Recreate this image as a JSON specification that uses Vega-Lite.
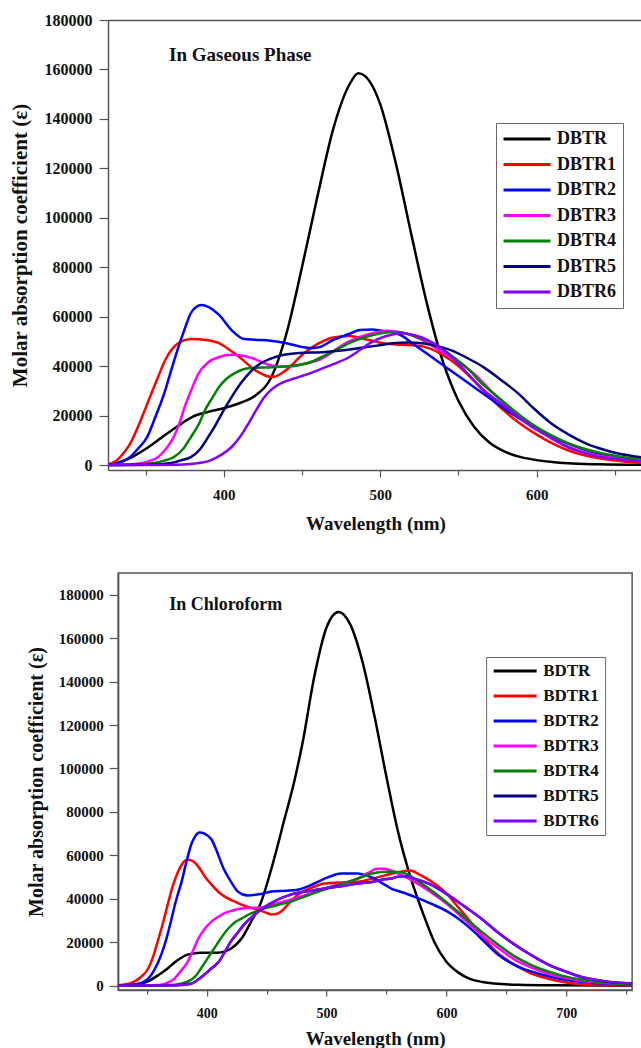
{
  "$schema": "https://vega.github.io/schema/vega-lite/v6.json",
  "padding": {"left": 9, "top": 12, "right": 0, "bottom": 0},
  "background": "white",
  "config": {
    "font": "Liberation Serif",
    "axis": {"domainColor": "#555", "domainWidth": 1.5, "tickColor": "#555", "tickWidth": 1.2, "labelFont": "Liberation Serif", "labelFontWeight": "bold", "labelColor": "#111", "titleFont": "Liberation Serif", "titleFontWeight": "bold", "titleColor": "#111", "grid": false, "labelFlush": false, "labelOverlap": false},
    "legend": {"labelFont": "Liberation Serif", "labelFontWeight": "bold", "labelColor": "#111"}
  },
  "datasets": {
    "gas": [
      {"s":"DBTR","w":326,"v":0},{"s":"DBTR","w":330,"v":500},{"s":"DBTR","w":340,"v":2800},{"s":"DBTR","w":350,"v":6500},{"s":"DBTR","w":360,"v":11000},{"s":"DBTR","w":370,"v":15500},{"s":"DBTR","w":380,"v":19500},{"s":"DBTR","w":390,"v":21500},{"s":"DBTR","w":400,"v":23000},{"s":"DBTR","w":410,"v":25000},{"s":"DBTR","w":420,"v":28000},{"s":"DBTR","w":430,"v":35000},{"s":"DBTR","w":440,"v":53000},{"s":"DBTR","w":450,"v":80000},{"s":"DBTR","w":460,"v":109000},{"s":"DBTR","w":470,"v":136000},{"s":"DBTR","w":480,"v":153500},{"s":"DBTR","w":486,"v":158500},{"s":"DBTR","w":490,"v":157500},{"s":"DBTR","w":500,"v":146000},{"s":"DBTR","w":510,"v":122000},{"s":"DBTR","w":520,"v":93000},{"s":"DBTR","w":530,"v":65000},{"s":"DBTR","w":540,"v":42000},{"s":"DBTR","w":550,"v":26000},{"s":"DBTR","w":560,"v":15500},{"s":"DBTR","w":570,"v":9000},{"s":"DBTR","w":580,"v":5300},{"s":"DBTR","w":590,"v":3200},{"s":"DBTR","w":600,"v":2000},{"s":"DBTR","w":610,"v":1200},{"s":"DBTR","w":620,"v":700},{"s":"DBTR","w":640,"v":300},{"s":"DBTR","w":668,"v":100},
      {"s":"DBTR1","w":326,"v":300},{"s":"DBTR1","w":330,"v":1200},{"s":"DBTR1","w":336,"v":4900},{"s":"DBTR1","w":340,"v":8500},{"s":"DBTR1","w":347,"v":18200},{"s":"DBTR1","w":350,"v":23000},{"s":"DBTR1","w":358,"v":35600},{"s":"DBTR1","w":363,"v":43000},{"s":"DBTR1","w":368,"v":47700},{"s":"DBTR1","w":373,"v":50000},{"s":"DBTR1","w":379,"v":51000},{"s":"DBTR1","w":390,"v":50500},{"s":"DBTR1","w":397,"v":49300},{"s":"DBTR1","w":405,"v":46000},{"s":"DBTR1","w":410,"v":43700},{"s":"DBTR1","w":420,"v":38400},{"s":"DBTR1","w":431,"v":35600},{"s":"DBTR1","w":440,"v":38500},{"s":"DBTR1","w":450,"v":44500},{"s":"DBTR1","w":460,"v":49000},{"s":"DBTR1","w":470,"v":51600},{"s":"DBTR1","w":480,"v":52200},{"s":"DBTR1","w":490,"v":51000},{"s":"DBTR1","w":500,"v":49500},{"s":"DBTR1","w":510,"v":48800},{"s":"DBTR1","w":520,"v":48500},{"s":"DBTR1","w":530,"v":47500},{"s":"DBTR1","w":540,"v":44500},{"s":"DBTR1","w":550,"v":40000},{"s":"DBTR1","w":560,"v":34000},{"s":"DBTR1","w":570,"v":27500},{"s":"DBTR1","w":580,"v":21500},{"s":"DBTR1","w":590,"v":16500},{"s":"DBTR1","w":600,"v":12300},{"s":"DBTR1","w":610,"v":8800},{"s":"DBTR1","w":620,"v":6000},{"s":"DBTR1","w":630,"v":4000},{"s":"DBTR1","w":640,"v":2700},{"s":"DBTR1","w":650,"v":1800},{"s":"DBTR1","w":668,"v":800},
      {"s":"DBTR2","w":326,"v":100},{"s":"DBTR2","w":330,"v":400},{"s":"DBTR2","w":340,"v":3200},{"s":"DBTR2","w":345,"v":6500},{"s":"DBTR2","w":351,"v":11300},{"s":"DBTR2","w":356,"v":19000},{"s":"DBTR2","w":362,"v":29100},{"s":"DBTR2","w":366,"v":37500},{"s":"DBTR2","w":371,"v":47700},{"s":"DBTR2","w":375,"v":55000},{"s":"DBTR2","w":379,"v":61500},{"s":"DBTR2","w":383,"v":64200},{"s":"DBTR2","w":386,"v":64700},{"s":"DBTR2","w":390,"v":64000},{"s":"DBTR2","w":397,"v":60700},{"s":"DBTR2","w":405,"v":54600},{"s":"DBTR2","w":413,"v":51000},{"s":"DBTR2","w":420,"v":50700},{"s":"DBTR2","w":430,"v":50300},{"s":"DBTR2","w":440,"v":49300},{"s":"DBTR2","w":450,"v":47800},{"s":"DBTR2","w":455,"v":47300},{"s":"DBTR2","w":460,"v":47500},{"s":"DBTR2","w":470,"v":50600},{"s":"DBTR2","w":480,"v":53000},{"s":"DBTR2","w":487,"v":54600},{"s":"DBTR2","w":495,"v":54800},{"s":"DBTR2","w":500,"v":54400},{"s":"DBTR2","w":513,"v":52600},{"s":"DBTR2","w":520,"v":49500},{"s":"DBTR2","w":530,"v":45000},{"s":"DBTR2","w":540,"v":40500},{"s":"DBTR2","w":550,"v":36000},{"s":"DBTR2","w":560,"v":31500},{"s":"DBTR2","w":570,"v":27000},{"s":"DBTR2","w":580,"v":22500},{"s":"DBTR2","w":590,"v":18500},{"s":"DBTR2","w":600,"v":14800},{"s":"DBTR2","w":610,"v":11500},{"s":"DBTR2","w":620,"v":8700},{"s":"DBTR2","w":630,"v":6400},{"s":"DBTR2","w":640,"v":4600},{"s":"DBTR2","w":650,"v":3200},{"s":"DBTR2","w":668,"v":1600},
      {"s":"DBTR3","w":326,"v":0},{"s":"DBTR3","w":340,"v":300},{"s":"DBTR3","w":350,"v":1200},{"s":"DBTR3","w":358,"v":3200},{"s":"DBTR3","w":363,"v":6500},{"s":"DBTR3","w":368,"v":11300},{"s":"DBTR3","w":372,"v":17500},{"s":"DBTR3","w":375,"v":23500},{"s":"DBTR3","w":380,"v":31500},{"s":"DBTR3","w":384,"v":37200},{"s":"DBTR3","w":390,"v":41500},{"s":"DBTR3","w":397,"v":43700},{"s":"DBTR3","w":405,"v":44600},{"s":"DBTR3","w":410,"v":44400},{"s":"DBTR3","w":418,"v":43300},{"s":"DBTR3","w":429,"v":40500},{"s":"DBTR3","w":436,"v":39800},{"s":"DBTR3","w":444,"v":40000},{"s":"DBTR3","w":452,"v":41000},{"s":"DBTR3","w":461,"v":42500},{"s":"DBTR3","w":468,"v":45000},{"s":"DBTR3","w":474,"v":47700},{"s":"DBTR3","w":480,"v":50000},{"s":"DBTR3","w":487,"v":51800},{"s":"DBTR3","w":495,"v":53300},{"s":"DBTR3","w":504,"v":54300},{"s":"DBTR3","w":510,"v":54000},{"s":"DBTR3","w":520,"v":52500},{"s":"DBTR3","w":530,"v":49500},{"s":"DBTR3","w":540,"v":45500},{"s":"DBTR3","w":550,"v":41500},{"s":"DBTR3","w":560,"v":37000},{"s":"DBTR3","w":570,"v":30500},{"s":"DBTR3","w":577,"v":26300},{"s":"DBTR3","w":590,"v":18800},{"s":"DBTR3","w":598,"v":15400},{"s":"DBTR3","w":610,"v":10500},{"s":"DBTR3","w":620,"v":7300},{"s":"DBTR3","w":630,"v":5200},{"s":"DBTR3","w":640,"v":3800},{"s":"DBTR3","w":652,"v":2700},{"s":"DBTR3","w":668,"v":1500},
      {"s":"DBTR4","w":326,"v":0},{"s":"DBTR4","w":345,"v":200},{"s":"DBTR4","w":355,"v":800},{"s":"DBTR4","w":362,"v":1800},{"s":"DBTR4","w":368,"v":3200},{"s":"DBTR4","w":374,"v":6500},{"s":"DBTR4","w":379,"v":11300},{"s":"DBTR4","w":384,"v":16500},{"s":"DBTR4","w":388,"v":22200},{"s":"DBTR4","w":393,"v":27500},{"s":"DBTR4","w":397,"v":31600},{"s":"DBTR4","w":402,"v":35000},{"s":"DBTR4","w":407,"v":37200},{"s":"DBTR4","w":416,"v":39200},{"s":"DBTR4","w":431,"v":39600},{"s":"DBTR4","w":448,"v":40500},{"s":"DBTR4","w":457,"v":42000},{"s":"DBTR4","w":465,"v":44500},{"s":"DBTR4","w":473,"v":47000},{"s":"DBTR4","w":482,"v":49800},{"s":"DBTR4","w":490,"v":51700},{"s":"DBTR4","w":500,"v":53200},{"s":"DBTR4","w":508,"v":53800},{"s":"DBTR4","w":515,"v":53400},{"s":"DBTR4","w":525,"v":51500},{"s":"DBTR4","w":534,"v":49300},{"s":"DBTR4","w":545,"v":44500},{"s":"DBTR4","w":555,"v":39600},{"s":"DBTR4","w":565,"v":33000},{"s":"DBTR4","w":577,"v":26500},{"s":"DBTR4","w":588,"v":20800},{"s":"DBTR4","w":598,"v":16200},{"s":"DBTR4","w":610,"v":11800},{"s":"DBTR4","w":620,"v":8900},{"s":"DBTR4","w":630,"v":6700},{"s":"DBTR4","w":640,"v":5000},{"s":"DBTR4","w":652,"v":3600},{"s":"DBTR4","w":668,"v":2200},
      {"s":"DBTR5","w":326,"v":0},{"s":"DBTR5","w":355,"v":200},{"s":"DBTR5","w":366,"v":800},{"s":"DBTR5","w":372,"v":1800},{"s":"DBTR5","w":379,"v":3200},{"s":"DBTR5","w":385,"v":6500},{"s":"DBTR5","w":390,"v":11300},{"s":"DBTR5","w":395,"v":16500},{"s":"DBTR5","w":400,"v":22200},{"s":"DBTR5","w":405,"v":27500},{"s":"DBTR5","w":411,"v":33200},{"s":"DBTR5","w":416,"v":37000},{"s":"DBTR5","w":422,"v":40500},{"s":"DBTR5","w":433,"v":43700},{"s":"DBTR5","w":448,"v":45300},{"s":"DBTR5","w":465,"v":45700},{"s":"DBTR5","w":475,"v":46300},{"s":"DBTR5","w":487,"v":47300},{"s":"DBTR5","w":498,"v":48300},{"s":"DBTR5","w":508,"v":49300},{"s":"DBTR5","w":518,"v":49600},{"s":"DBTR5","w":528,"v":49200},{"s":"DBTR5","w":537,"v":48000},{"s":"DBTR5","w":545,"v":46500},{"s":"DBTR5","w":555,"v":43500},{"s":"DBTR5","w":566,"v":39600},{"s":"DBTR5","w":577,"v":34500},{"s":"DBTR5","w":588,"v":29100},{"s":"DBTR5","w":598,"v":23000},{"s":"DBTR5","w":609,"v":17000},{"s":"DBTR5","w":620,"v":12500},{"s":"DBTR5","w":631,"v":8900},{"s":"DBTR5","w":640,"v":6800},{"s":"DBTR5","w":650,"v":5000},{"s":"DBTR5","w":660,"v":3800},{"s":"DBTR5","w":668,"v":3000},
      {"s":"DBTR6","w":326,"v":0},{"s":"DBTR6","w":370,"v":100},{"s":"DBTR6","w":379,"v":400},{"s":"DBTR6","w":386,"v":1000},{"s":"DBTR6","w":392,"v":2000},{"s":"DBTR6","w":398,"v":4000},{"s":"DBTR6","w":405,"v":7300},{"s":"DBTR6","w":410,"v":11000},{"s":"DBTR6","w":416,"v":17000},{"s":"DBTR6","w":421,"v":22500},{"s":"DBTR6","w":426,"v":27500},{"s":"DBTR6","w":431,"v":30800},{"s":"DBTR6","w":437,"v":33200},{"s":"DBTR6","w":445,"v":35000},{"s":"DBTR6","w":452,"v":36400},{"s":"DBTR6","w":460,"v":38300},{"s":"DBTR6","w":470,"v":40800},{"s":"DBTR6","w":480,"v":43600},{"s":"DBTR6","w":487,"v":46500},{"s":"DBTR6","w":494,"v":49500},{"s":"DBTR6","w":502,"v":51800},{"s":"DBTR6","w":508,"v":52800},{"s":"DBTR6","w":513,"v":53400},{"s":"DBTR6","w":520,"v":52800},{"s":"DBTR6","w":527,"v":51500},{"s":"DBTR6","w":534,"v":49300},{"s":"DBTR6","w":545,"v":44000},{"s":"DBTR6","w":555,"v":37600},{"s":"DBTR6","w":565,"v":31000},{"s":"DBTR6","w":577,"v":25000},{"s":"DBTR6","w":588,"v":19500},{"s":"DBTR6","w":598,"v":15000},{"s":"DBTR6","w":610,"v":10800},{"s":"DBTR6","w":620,"v":7300},{"s":"DBTR6","w":630,"v":5000},{"s":"DBTR6","w":640,"v":3400},{"s":"DBTR6","w":652,"v":2400},{"s":"DBTR6","w":668,"v":1300}
    ],
    "chloro": [
      {"s":"BDTR","w":326,"v":0},{"s":"BDTR","w":340,"v":500},{"s":"BDTR","w":350,"v":1800},{"s":"BDTR","w":360,"v":5000},{"s":"BDTR","w":367,"v":7800},{"s":"BDTR","w":375,"v":11500},{"s":"BDTR","w":384,"v":14300},{"s":"BDTR","w":395,"v":15200},{"s":"BDTR","w":409,"v":15200},{"s":"BDTR","w":420,"v":17000},{"s":"BDTR","w":429,"v":21700},{"s":"BDTR","w":437,"v":29500},{"s":"BDTR","w":445,"v":38000},{"s":"BDTR","w":454,"v":54000},{"s":"BDTR","w":465,"v":77000},{"s":"BDTR","w":473,"v":94000},{"s":"BDTR","w":480,"v":112000},{"s":"BDTR","w":490,"v":143000},{"s":"BDTR","w":500,"v":165000},{"s":"BDTR","w":510,"v":172000},{"s":"BDTR","w":520,"v":166000},{"s":"BDTR","w":530,"v":149000},{"s":"BDTR","w":540,"v":124000},{"s":"BDTR","w":550,"v":96000},{"s":"BDTR","w":560,"v":70000},{"s":"BDTR","w":570,"v":50000},{"s":"BDTR","w":580,"v":34000},{"s":"BDTR","w":590,"v":20000},{"s":"BDTR","w":600,"v":11000},{"s":"BDTR","w":610,"v":6000},{"s":"BDTR","w":620,"v":3000},{"s":"BDTR","w":630,"v":1700},{"s":"BDTR","w":640,"v":1000},{"s":"BDTR","w":660,"v":400},{"s":"BDTR","w":690,"v":150},{"s":"BDTR","w":755,"v":0},
      {"s":"BDTR1","w":326,"v":200},{"s":"BDTR1","w":330,"v":400},{"s":"BDTR1","w":339,"v":1800},{"s":"BDTR1","w":345,"v":4000},{"s":"BDTR1","w":351,"v":7800},{"s":"BDTR1","w":355,"v":13000},{"s":"BDTR1","w":359,"v":20300},{"s":"BDTR1","w":364,"v":30000},{"s":"BDTR1","w":368,"v":38700},{"s":"BDTR1","w":372,"v":46500},{"s":"BDTR1","w":376,"v":52500},{"s":"BDTR1","w":380,"v":56500},{"s":"BDTR1","w":384,"v":58000},{"s":"BDTR1","w":388,"v":57500},{"s":"BDTR1","w":393,"v":54800},{"s":"BDTR1","w":398,"v":50500},{"s":"BDTR1","w":404,"v":46500},{"s":"BDTR1","w":410,"v":43000},{"s":"BDTR1","w":415,"v":41000},{"s":"BDTR1","w":422,"v":39000},{"s":"BDTR1","w":429,"v":37300},{"s":"BDTR1","w":436,"v":36000},{"s":"BDTR1","w":443,"v":35000},{"s":"BDTR1","w":450,"v":33500},{"s":"BDTR1","w":454,"v":32800},{"s":"BDTR1","w":458,"v":33000},{"s":"BDTR1","w":462,"v":34100},{"s":"BDTR1","w":468,"v":37500},{"s":"BDTR1","w":476,"v":41900},{"s":"BDTR1","w":487,"v":45000},{"s":"BDTR1","w":498,"v":47000},{"s":"BDTR1","w":510,"v":47500},{"s":"BDTR1","w":526,"v":47900},{"s":"BDTR1","w":540,"v":49500},{"s":"BDTR1","w":554,"v":51500},{"s":"BDTR1","w":562,"v":52500},{"s":"BDTR1","w":570,"v":53000},{"s":"BDTR1","w":578,"v":51000},{"s":"BDTR1","w":590,"v":47000},{"s":"BDTR1","w":601,"v":41900},{"s":"BDTR1","w":610,"v":36000},{"s":"BDTR1","w":620,"v":29500},{"s":"BDTR1","w":629,"v":23500},{"s":"BDTR1","w":640,"v":16500},{"s":"BDTR1","w":650,"v":12000},{"s":"BDTR1","w":657,"v":9700},{"s":"BDTR1","w":670,"v":5800},{"s":"BDTR1","w":685,"v":3200},{"s":"BDTR1","w":700,"v":1500},{"s":"BDTR1","w":712,"v":700},{"s":"BDTR1","w":730,"v":300},{"s":"BDTR1","w":755,"v":100},
      {"s":"BDTR2","w":326,"v":0},{"s":"BDTR2","w":340,"v":500},{"s":"BDTR2","w":351,"v":3200},{"s":"BDTR2","w":356,"v":7000},{"s":"BDTR2","w":362,"v":14300},{"s":"BDTR2","w":366,"v":21000},{"s":"BDTR2","w":370,"v":29500},{"s":"BDTR2","w":374,"v":38500},{"s":"BDTR2","w":379,"v":47900},{"s":"BDTR2","w":383,"v":57000},{"s":"BDTR2","w":387,"v":65000},{"s":"BDTR2","w":390,"v":68500},{"s":"BDTR2","w":394,"v":70500},{"s":"BDTR2","w":398,"v":70000},{"s":"BDTR2","w":404,"v":67300},{"s":"BDTR2","w":409,"v":61000},{"s":"BDTR2","w":414,"v":53900},{"s":"BDTR2","w":420,"v":48000},{"s":"BDTR2","w":426,"v":43300},{"s":"BDTR2","w":434,"v":41500},{"s":"BDTR2","w":445,"v":42200},{"s":"BDTR2","w":454,"v":43300},{"s":"BDTR2","w":466,"v":43700},{"s":"BDTR2","w":476,"v":44200},{"s":"BDTR2","w":485,"v":45800},{"s":"BDTR2","w":493,"v":47900},{"s":"BDTR2","w":503,"v":50300},{"s":"BDTR2","w":512,"v":51600},{"s":"BDTR2","w":526,"v":51600},{"s":"BDTR2","w":533,"v":50800},{"s":"BDTR2","w":540,"v":49300},{"s":"BDTR2","w":547,"v":47000},{"s":"BDTR2","w":554,"v":44700},{"s":"BDTR2","w":563,"v":43000},{"s":"BDTR2","w":573,"v":41000},{"s":"BDTR2","w":587,"v":37800},{"s":"BDTR2","w":601,"v":34100},{"s":"BDTR2","w":612,"v":30000},{"s":"BDTR2","w":623,"v":24900},{"s":"BDTR2","w":633,"v":19500},{"s":"BDTR2","w":643,"v":14300},{"s":"BDTR2","w":657,"v":9500},{"s":"BDTR2","w":671,"v":6500},{"s":"BDTR2","w":685,"v":4300},{"s":"BDTR2","w":698,"v":2800},{"s":"BDTR2","w":720,"v":1300},{"s":"BDTR2","w":755,"v":500},
      {"s":"BDTR3","w":326,"v":0},{"s":"BDTR3","w":360,"v":300},{"s":"BDTR3","w":366,"v":1000},{"s":"BDTR3","w":373,"v":3200},{"s":"BDTR3","w":378,"v":6500},{"s":"BDTR3","w":384,"v":11000},{"s":"BDTR3","w":388,"v":15500},{"s":"BDTR3","w":393,"v":21700},{"s":"BDTR3","w":398,"v":26000},{"s":"BDTR3","w":404,"v":29500},{"s":"BDTR3","w":409,"v":31500},{"s":"BDTR3","w":414,"v":33200},{"s":"BDTR3","w":421,"v":34500},{"s":"BDTR3","w":429,"v":35500},{"s":"BDTR3","w":436,"v":35800},{"s":"BDTR3","w":445,"v":36000},{"s":"BDTR3","w":456,"v":37500},{"s":"BDTR3","w":470,"v":39600},{"s":"BDTR3","w":484,"v":42000},{"s":"BDTR3","w":498,"v":44700},{"s":"BDTR3","w":512,"v":47000},{"s":"BDTR3","w":526,"v":49300},{"s":"BDTR3","w":535,"v":52000},{"s":"BDTR3","w":542,"v":53800},{"s":"BDTR3","w":548,"v":53800},{"s":"BDTR3","w":556,"v":52500},{"s":"BDTR3","w":565,"v":50300},{"s":"BDTR3","w":573,"v":47900},{"s":"BDTR3","w":587,"v":43000},{"s":"BDTR3","w":601,"v":37300},{"s":"BDTR3","w":615,"v":30500},{"s":"BDTR3","w":629,"v":23500},{"s":"BDTR3","w":643,"v":17500},{"s":"BDTR3","w":657,"v":12000},{"s":"BDTR3","w":671,"v":8300},{"s":"BDTR3","w":685,"v":5500},{"s":"BDTR3","w":698,"v":3700},{"s":"BDTR3","w":712,"v":2300},{"s":"BDTR3","w":730,"v":1300},{"s":"BDTR3","w":755,"v":600},
      {"s":"BDTR4","w":326,"v":0},{"s":"BDTR4","w":370,"v":300},{"s":"BDTR4","w":378,"v":900},{"s":"BDTR4","w":384,"v":1800},{"s":"BDTR4","w":390,"v":4000},{"s":"BDTR4","w":395,"v":7800},{"s":"BDTR4","w":400,"v":12000},{"s":"BDTR4","w":406,"v":17000},{"s":"BDTR4","w":412,"v":22000},{"s":"BDTR4","w":418,"v":26300},{"s":"BDTR4","w":423,"v":29000},{"s":"BDTR4","w":429,"v":30900},{"s":"BDTR4","w":436,"v":33000},{"s":"BDTR4","w":445,"v":35000},{"s":"BDTR4","w":457,"v":36800},{"s":"BDTR4","w":470,"v":38700},{"s":"BDTR4","w":484,"v":41500},{"s":"BDTR4","w":498,"v":44200},{"s":"BDTR4","w":512,"v":46700},{"s":"BDTR4","w":526,"v":49300},{"s":"BDTR4","w":537,"v":51500},{"s":"BDTR4","w":548,"v":52500},{"s":"BDTR4","w":556,"v":52500},{"s":"BDTR4","w":565,"v":51800},{"s":"BDTR4","w":573,"v":49300},{"s":"BDTR4","w":587,"v":44000},{"s":"BDTR4","w":601,"v":38000},{"s":"BDTR4","w":615,"v":31500},{"s":"BDTR4","w":629,"v":25000},{"s":"BDTR4","w":643,"v":19000},{"s":"BDTR4","w":657,"v":13500},{"s":"BDTR4","w":671,"v":9500},{"s":"BDTR4","w":685,"v":6500},{"s":"BDTR4","w":698,"v":4400},{"s":"BDTR4","w":712,"v":2800},{"s":"BDTR4","w":730,"v":1500},{"s":"BDTR4","w":755,"v":600},
      {"s":"BDTR5","w":326,"v":0},{"s":"BDTR5","w":375,"v":200},{"s":"BDTR5","w":387,"v":900},{"s":"BDTR5","w":392,"v":2500},{"s":"BDTR5","w":398,"v":5100},{"s":"BDTR5","w":404,"v":8000},{"s":"BDTR5","w":410,"v":11000},{"s":"BDTR5","w":415,"v":15500},{"s":"BDTR5","w":420,"v":20300},{"s":"BDTR5","w":426,"v":24500},{"s":"BDTR5","w":431,"v":28100},{"s":"BDTR5","w":438,"v":31800},{"s":"BDTR5","w":445,"v":35000},{"s":"BDTR5","w":456,"v":38700},{"s":"BDTR5","w":470,"v":41900},{"s":"BDTR5","w":484,"v":43500},{"s":"BDTR5","w":498,"v":44700},{"s":"BDTR5","w":512,"v":45800},{"s":"BDTR5","w":526,"v":47000},{"s":"BDTR5","w":540,"v":48000},{"s":"BDTR5","w":548,"v":49000},{"s":"BDTR5","w":554,"v":49300},{"s":"BDTR5","w":560,"v":50200},{"s":"BDTR5","w":566,"v":50400},{"s":"BDTR5","w":573,"v":49300},{"s":"BDTR5","w":587,"v":46500},{"s":"BDTR5","w":601,"v":41900},{"s":"BDTR5","w":615,"v":36500},{"s":"BDTR5","w":629,"v":30900},{"s":"BDTR5","w":643,"v":24500},{"s":"BDTR5","w":657,"v":18900},{"s":"BDTR5","w":671,"v":14000},{"s":"BDTR5","w":685,"v":9700},{"s":"BDTR5","w":698,"v":6800},{"s":"BDTR5","w":712,"v":4100},{"s":"BDTR5","w":730,"v":2200},{"s":"BDTR5","w":755,"v":1000},
      {"s":"BDTR6","w":326,"v":0},{"s":"BDTR6","w":375,"v":200},{"s":"BDTR6","w":387,"v":900},{"s":"BDTR6","w":392,"v":2500},{"s":"BDTR6","w":398,"v":5100},{"s":"BDTR6","w":404,"v":8000},{"s":"BDTR6","w":410,"v":11000},{"s":"BDTR6","w":415,"v":15500},{"s":"BDTR6","w":420,"v":20300},{"s":"BDTR6","w":426,"v":24500},{"s":"BDTR6","w":431,"v":28100},{"s":"BDTR6","w":438,"v":31800},{"s":"BDTR6","w":445,"v":35000},{"s":"BDTR6","w":456,"v":38700},{"s":"BDTR6","w":470,"v":41900},{"s":"BDTR6","w":484,"v":43500},{"s":"BDTR6","w":498,"v":44700},{"s":"BDTR6","w":512,"v":45800},{"s":"BDTR6","w":526,"v":47000},{"s":"BDTR6","w":540,"v":48000},{"s":"BDTR6","w":548,"v":49000},{"s":"BDTR6","w":554,"v":49300},{"s":"BDTR6","w":560,"v":50200},{"s":"BDTR6","w":566,"v":50400},{"s":"BDTR6","w":573,"v":49300},{"s":"BDTR6","w":587,"v":46500},{"s":"BDTR6","w":601,"v":41900},{"s":"BDTR6","w":615,"v":36500},{"s":"BDTR6","w":629,"v":30900},{"s":"BDTR6","w":643,"v":24500},{"s":"BDTR6","w":657,"v":18900},{"s":"BDTR6","w":671,"v":14000},{"s":"BDTR6","w":685,"v":9700},{"s":"BDTR6","w":698,"v":6800},{"s":"BDTR6","w":712,"v":4100},{"s":"BDTR6","w":730,"v":2200},{"s":"BDTR6","w":755,"v":1000}
    ]
  },
  "vconcat": [
    {
      "width": 535,
      "height": 450,
      "view": {"stroke": null},
      "resolve": {"axis": {"x": "independent"}},
      "layer": [
        {
          "data": {"name": "gas"},
          "mark": {"type": "line", "strokeWidth": 2.5, "interpolate": "monotone", "clip": true},
          "encoding": {
            "x": {"field": "w", "type": "quantitative", "scale": {"domain": [326, 668], "nice": false, "zero": false},
              "axis": {"title": "Wavelength (nm)", "values": [350, 400, 450, 500, 550, 600, 650], "format": "d", "labelExpr": "datum.value % 100 === 0 ? datum.label : ''", "tickSize": {"condition": {"test": "datum.value % 100 === 0", "value": 7}, "value": 5}, "labelPadding": 10, "labelFontSize": 15, "titleFontSize": 19, "titlePadding": 12}},
            "y": {"field": "v", "type": "quantitative", "scale": {"domain": [-2000, 180000], "nice": false, "zero": false},
              "axis": {"title": "Molar absorption coefficient (ε)", "values": [0,10000,20000,30000,40000,50000,60000,70000,80000,90000,100000,110000,120000,130000,140000,150000,160000,170000,180000], "format": "d", "labelExpr": "datum.value % 20000 === 0 ? datum.label : ''", "tickSize": {"condition": {"test": "datum.value % 20000 === 0", "value": 9}, "value": 6}, "labelPadding": 7, "labelFontSize": 16, "titleFontSize": 21, "titlePadding": 14}},
            "color": {"field": "s", "type": "nominal",
              "scale": {"domain": ["DBTR","DBTR1","DBTR2","DBTR3","DBTR4","DBTR5","DBTR6"], "range": ["#000000","#ff0000","#0000ff","#ff00ff","#008000","#000080","#8000ff"]},
              "legend": {"orient": "none", "legendX": 388, "legendY": 103, "title": null, "symbolType": "stroke", "symbolSize": 2209, "symbolStrokeWidth": 3, "labelFontSize": 18, "strokeColor": "#666", "fillColor": "white", "padding": 6, "clipHeight": 20, "rowPadding": 5.5, "labelOffset": 5}}
          }
        },
        {
          "data": {"values": [{}]},
          "mark": {"type": "text", "text": "In Gaseous Phase", "align": "left", "baseline": "middle", "font": "Liberation Serif", "fontSize": 19, "fontWeight": "bold", "color": "#111"},
          "encoding": {
            "x": {"datum": 365, "type": "quantitative", "axis": {"orient": "top", "labels": false, "ticks": false, "title": null, "domain": true}},
            "y": {"datum": 165800, "type": "quantitative"}
          }
        }
      ]
    },
    {
      "width": 514,
      "height": 417,
      "view": {"stroke": "#555", "strokeWidth": 1.5},
      "layer": [
        {
          "data": {"name": "chloro"},
          "mark": {"type": "line", "strokeWidth": 2.5, "interpolate": "monotone", "clip": true},
          "encoding": {
            "x": {"field": "w", "type": "quantitative", "scale": {"domain": [326, 755], "nice": false, "zero": false},
              "axis": {"title": "Wavelength (nm)", "values": [350, 400, 450, 500, 550, 600, 650, 700, 750], "format": "d", "labelExpr": "datum.value % 100 === 0 ? datum.label : ''", "tickSize": {"condition": {"test": "datum.value % 100 === 0", "value": 6}, "value": 4}, "labelPadding": 10, "labelFontSize": 14, "titleFontSize": 19, "titlePadding": 9}},
            "y": {"field": "v", "type": "quantitative", "scale": {"domain": [-2000, 190000], "nice": false, "zero": false},
              "axis": {"title": "Molar absorption coefficient (ε)", "values": [0,10000,20000,30000,40000,50000,60000,70000,80000,90000,100000,110000,120000,130000,140000,150000,160000,170000,180000,190000], "format": "d", "labelExpr": "datum.value % 20000 === 0 ? datum.label : ''", "tickSize": {"condition": {"test": "datum.value % 20000 === 0", "value": 9}, "value": 6}, "labelPadding": 6, "labelFontSize": 15, "titleFontSize": 20, "titlePadding": 12}},
            "color": {"field": "s", "type": "nominal",
              "scale": {"domain": ["BDTR","BDTR1","BDTR2","BDTR3","BDTR4","BDTR5","BDTR6"], "range": ["#000000","#ff0000","#0000ff","#ff00ff","#008000","#000080","#8000ff"]},
              "legend": {"orient": "none", "legendX": 368, "legendY": 84, "title": null, "symbolType": "stroke", "symbolSize": 1849, "symbolStrokeWidth": 3, "labelFontSize": 17, "strokeColor": "#666", "fillColor": "white", "padding": 6, "clipHeight": 16, "rowPadding": 8, "labelOffset": 5}}
          }
        },
        {
          "data": {"values": [{}]},
          "mark": {"type": "text", "text": "In Chloroform", "align": "left", "baseline": "middle", "font": "Liberation Serif", "fontSize": 18, "fontWeight": "bold", "color": "#111"},
          "encoding": {
            "x": {"datum": 368.6, "type": "quantitative"},
            "y": {"datum": 175100, "type": "quantitative"}
          }
        }
      ]
    }
  ],
  "spacing": 39,
  "center": true,
  "resolve": {"scale": {"color": "independent"}, "legend": {"color": "independent"}}
}
